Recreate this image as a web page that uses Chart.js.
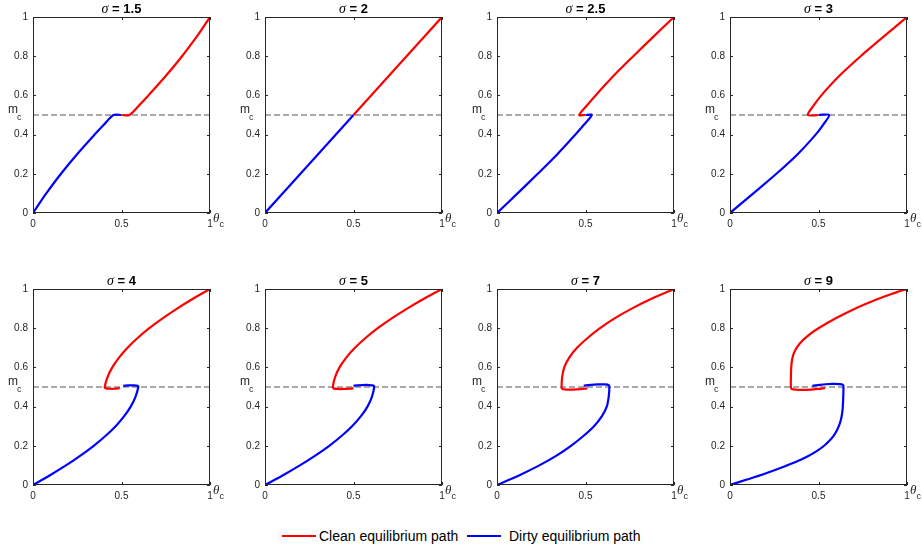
<!DOCTYPE html>
<html>
<head>
<meta charset="utf-8">
<script src="https://cdn.jsdelivr.net/npm/chart.js@4/dist/chart.umd.min.js"></script>
<style>
  body { margin: 0; background: #fff; width: 922px; height: 548px; position: relative; overflow: hidden;
         font-family: "Liberation Sans", Arial, sans-serif; }
  canvas.panel { position: absolute; }
  .lg-line { position: absolute; height: 2px; width: 34px; top: 535px; }
  .lg-text { position: absolute; top: 527px; font-size: 14px; line-height: 18px; color: #000; white-space: nowrap; }
</style>
</head>
<body>

<div class="lg-line" style="left:282px;background:#ff0000"></div>
<div class="lg-text" style="left:319px">Clean equilibrium path</div>
<div class="lg-line" style="left:467px;background:#0000ff"></div>
<div class="lg-text" style="left:509px">Dirty equilibrium path</div>

<script>
// sigma values shown in the panel titles
const sigmaLabels = ['1.5', '2', '2.5', '3', '4', '5', '7', '9'];
const xTicks = [0, 0.5, 1];
const yTicks = [0, 0.2, 0.4, 0.6, 0.8, 1];
const threshold = 0.5;

// [theta_c, m_c] points
const clean_15 = [[1,1],[0.963,0.95],[0.925,0.9],[0.842,0.8],[0.751,0.7],[0.652,0.6],[0.6,0.55],[0.545,0.5],[0.5,0.5]];
const dirty_15 = [[0,0],[0.037,0.05],[0.075,0.1],[0.158,0.2],[0.249,0.3],[0.348,0.4],[0.4,0.45],[0.455,0.5],[0.5,0.5]];

const clean_2 = [[1,1],[0.5,0.5]];
const dirty_2 = [[0,0],[0.5,0.5]];

const clean_25 = [[1,1],[0.884,0.9],[0.77,0.8],[0.659,0.7],[0.557,0.6],[0.509,0.55],[0.465,0.5],[0.5,0.5]];
const dirty_25 = [[0,0],[0.116,0.1],[0.23,0.2],[0.341,0.3],[0.443,0.4],[0.491,0.45],[0.535,0.5],[0.5,0.5]];

const clean_3 = [[1,1],[0.868,0.9],[0.738,0.8],[0.618,0.7],[0.516,0.6],[0.474,0.55],[0.44,0.5],[0.5,0.5]];
const dirty_3 = [[0,0],[0.132,0.1],[0.262,0.2],[0.382,0.3],[0.484,0.4],[0.526,0.45],[0.56,0.5],[0.5,0.5]];

const clean_4 = [[1,1],[0.904,0.95],[0.814,0.9],[0.732,0.85],[0.657,0.8],[0.591,0.75],[0.534,0.7],[0.486,0.65],[0.448,0.6],
                 [0.421,0.55],[0.405,0.5],[0.41,0.494],[0.43,0.491],[0.46,0.491],[0.49,0.494]];
const dirty_4 = [[0,0],[0.096,0.05],[0.186,0.1],[0.268,0.15],[0.343,0.2],[0.409,0.25],[0.467,0.3],[0.514,0.35],[0.552,0.4],
                 [0.579,0.45],[0.595,0.5],[0.59,0.506],[0.57,0.508],[0.54,0.508],[0.51,0.506]];

const clean_5 = [[1,1],[0.898,0.95],[0.803,0.9],[0.716,0.85],[0.637,0.8],[0.568,0.75],[0.508,0.7],[0.459,0.65],[0.421,0.6],
                 [0.396,0.55],[0.383,0.5],[0.388,0.493],[0.41,0.49],[0.45,0.49],[0.48,0.492],[0.5,0.494]];
const dirty_5 = [[0,0],[0.102,0.05],[0.197,0.1],[0.284,0.15],[0.363,0.2],[0.432,0.25],[0.492,0.3],[0.541,0.35],[0.579,0.4],
                 [0.604,0.45],[0.617,0.5],[0.612,0.507],[0.59,0.51],[0.55,0.51],[0.52,0.508],[0.5,0.506]];

const clean_7 = [[1,1],[0.873,0.95],[0.761,0.9],[0.664,0.85],[0.582,0.8],[0.512,0.75],[0.452,0.7],[0.408,0.65],[0.38,0.6],
                 [0.368,0.55],[0.365,0.5],[0.368,0.491],[0.39,0.487],[0.43,0.487],[0.47,0.489],[0.51,0.493]];
const dirty_7 = [[0,0],[0.127,0.05],[0.239,0.1],[0.336,0.15],[0.418,0.2],[0.488,0.25],[0.548,0.3],[0.592,0.35],[0.62,0.4],
                 [0.631,0.45],[0.635,0.5],[0.632,0.509],[0.61,0.513],[0.57,0.513],[0.53,0.511],[0.49,0.507]];

const clean_9 = [[1,1],[0.94,0.983],[0.88,0.964],[0.8,0.936],[0.7,0.897],[0.6,0.852],[0.5,0.8],[0.45,0.769],[0.41,0.737],
                 [0.38,0.705],[0.362,0.675],[0.351,0.64],[0.346,0.6],[0.344,0.55],[0.344,0.5],[0.348,0.49],[0.375,0.486],
                 [0.42,0.485],[0.46,0.487],[0.5,0.49],[0.537,0.495]];
const dirty_9 = [[0,0],[0.1,0.029],[0.2,0.059],[0.3,0.092],[0.38,0.121],[0.44,0.147],[0.49,0.173],[0.53,0.199],[0.56,0.224],
                 [0.585,0.251],[0.605,0.281],[0.62,0.313],[0.63,0.347],[0.636,0.385],[0.639,0.43],[0.641,0.5],[0.638,0.511],
                 [0.615,0.515],[0.58,0.516],[0.54,0.514],[0.5,0.51],[0.465,0.506]];

const cleanPaths = [clean_15, clean_2, clean_25, clean_3, clean_4, clean_5, clean_7, clean_9];
const dirtyPaths = [dirty_15, dirty_2, dirty_25, dirty_3, dirty_4, dirty_5, dirty_7, dirty_9];

const colLeft = [33, 265, 497, 730];
const rowTop = [17, 289];
const AXIS_W = 33, TOP_PAD = 17, RIGHT_PAD = 15, X_AXIS_H = 22;
const PLOT_W = 177, PLOT_H = 196;
const INK = '#262626';

const toXY = pts => pts.map(p => ({ x: p[0], y: p[1] }));

// box, inside tick marks, title and axis labels in MATLAB style
const framePlugin = {
  id: 'frame',
  afterDraw(chart) {
    const { ctx, chartArea: a, scales } = chart;
    const sx = scales.x, sy = scales.y;
    ctx.save();
    ctx.strokeStyle = INK;
    ctx.lineWidth = 1;
    ctx.strokeRect(a.left + 0.5, a.top + 0.5, a.right - a.left - 1, a.bottom - a.top - 1);
    ctx.beginPath();
    yTicks.forEach(v => {
      const p = Math.round(sy.getPixelForValue(v)) + 0.5;
      ctx.moveTo(a.left, p); ctx.lineTo(a.left + 3, p);
      ctx.moveTo(a.right, p); ctx.lineTo(a.right - 3, p);
    });
    xTicks.forEach(v => {
      const p = Math.round(sx.getPixelForValue(v)) + 0.5;
      ctx.moveTo(p, a.bottom); ctx.lineTo(p, a.bottom - 3);
      ctx.moveTo(p, a.top); ctx.lineTo(p, a.top + 3);
    });
    ctx.stroke();

    // title: italic sigma + bold value
    const sig = chart.options.plugins.frame.sigma;
    const head = 'σ', tail = ' = ' + sig;
    ctx.textAlign = 'left';
    ctx.textBaseline = 'alphabetic';
    ctx.font = 'italic 14px "Liberation Serif"';
    const w1 = ctx.measureText(head).width;
    ctx.font = 'bold 13px "Liberation Sans"';
    const w2 = ctx.measureText(tail).width;
    const tx = (a.left + a.right) / 2 - (w1 + w2) / 2;
    const ty = a.top - 4;
    ctx.fillStyle = '#000';
    ctx.font = 'italic 14px "Liberation Serif"';
    ctx.fillText(head, tx, ty);
    ctx.font = 'bold 13px "Liberation Sans"';
    ctx.fillText(tail, tx + w1, ty);

    // m_c label
    ctx.fillStyle = INK;
    const my = sy.getPixelForValue(threshold);
    ctx.font = '12px "Liberation Sans"';
    ctx.fillText('m', a.left - 25, my - 2);
    const mw = ctx.measureText('m').width;
    ctx.font = '9px "Liberation Sans"';
    ctx.fillText('c', a.left - 26 + mw, my + 5);

    // theta_c label
    ctx.font = 'italic 13px "Liberation Serif"';
    ctx.fillText('θ', a.right + 3, a.bottom + 9);
    const tw = ctx.measureText('θ').width;
    ctx.font = '9px "Liberation Sans"';
    ctx.fillText('c', a.right + 3 + tw, a.bottom + 14);
    ctx.restore();
  }
};

sigmaLabels.forEach((sig, i) => {
  const col = i % 4, row = Math.floor(i / 4);
  const cv = document.createElement('canvas');
  cv.className = 'panel';
  const w = AXIS_W + PLOT_W + RIGHT_PAD, h = TOP_PAD + PLOT_H + X_AXIS_H;
  cv.width = w; cv.height = h;
  cv.style.left = (colLeft[col] - AXIS_W) + 'px';
  cv.style.top = (rowTop[row] - TOP_PAD) + 'px';
  cv.style.width = w + 'px'; cv.style.height = h + 'px';
  document.body.appendChild(cv);

  new Chart(cv.getContext('2d'), {
    type: 'scatter',
    data: {
      datasets: [
        {
          label: 'Clean equilibrium path',
          data: toXY(cleanPaths[i]),
          showLine: true, borderColor: '#ff0000', borderWidth: 2.2,
          pointRadius: 0, tension: 0.3
        },
        {
          label: 'Dirty equilibrium path',
          data: toXY(dirtyPaths[i]),
          showLine: true, borderColor: '#0000ff', borderWidth: 2.2,
          pointRadius: 0, tension: 0.3
        },
        {
          label: 'threshold',
          data: [{ x: 0, y: threshold }, { x: 1, y: threshold }],
          showLine: true, borderColor: '#555555', borderWidth: 1,
          borderDash: [6, 3], pointRadius: 0
        }
      ]
    },
    options: {
      responsive: false,
      animation: false,
      devicePixelRatio: 1,
      layout: { padding: { left: 0, top: TOP_PAD, right: RIGHT_PAD, bottom: 0 } },
      plugins: {
        legend: { display: false },
        tooltip: { enabled: false },
        frame: { sigma: sig }
      },
      scales: {
        x: {
          type: 'linear', min: 0, max: 1,
          grid: { display: false, drawTicks: false },
          border: { display: false },
          afterBuildTicks: s => { s.ticks = xTicks.map(v => ({ value: v })); },
          afterFit: s => { s.height = X_AXIS_H; },
          ticks: { padding: 5, color: INK, font: { family: 'Liberation Sans', size: 10 },
                   maxRotation: 0, autoSkip: false, callback: v => String(v) }
        },
        y: {
          type: 'linear', min: 0, max: 1,
          grid: { display: false, drawTicks: false },
          border: { display: false },
          afterBuildTicks: s => { s.ticks = yTicks.map(v => ({ value: v })); },
          afterFit: s => { s.width = AXIS_W; },
          ticks: { padding: 5, color: INK, font: { family: 'Liberation Sans', size: 10 },
                   autoSkip: false, callback: v => String(v) }
        }
      }
    },
    plugins: [framePlugin]
  });
});
</script>
</body>
</html>
